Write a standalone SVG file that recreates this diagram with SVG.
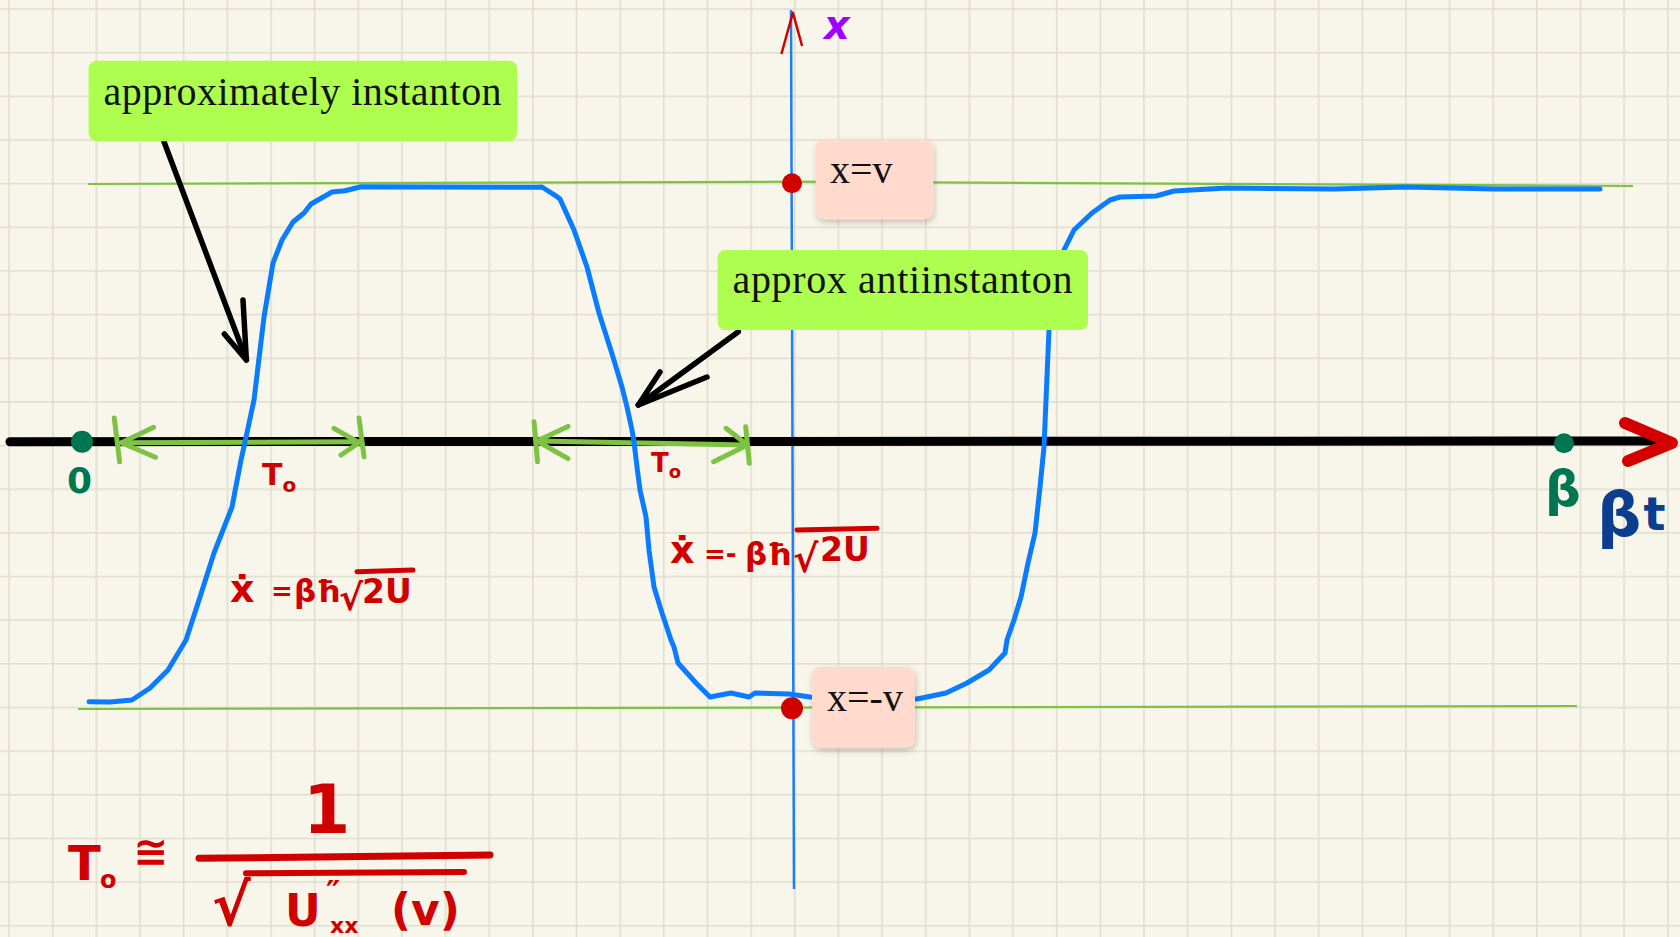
<svg xmlns="http://www.w3.org/2000/svg" width="1680" height="937" viewBox="0 0 1680 937">
<defs>
<pattern id="grid" patternUnits="userSpaceOnUse" x="8.25" y="8.25" width="43.65" height="43.65">
<rect x="0" y="0" width="43.65" height="1.6" fill="#e1ded0"/>
<rect x="0" y="0" width="1.6" height="43.65" fill="#e1ded0"/>
</pattern>
<filter id="shadow" x="-20%" y="-20%" width="150%" height="150%">
<feDropShadow dx="1" dy="3" stdDeviation="3" flood-color="#000" flood-opacity="0.22"/>
</filter>
<style>
.box-green{fill:#adfe4f}
.box-pink{fill:#ffdacd;filter:url(#shadow)}
.lbl{font-family:"Liberation Serif","Times New Roman",serif;font-size:40px;fill:#111}
.hand{font-family:"DejaVu Sans","Liberation Sans",sans-serif;font-weight:bold}
.red{fill:#d10000}
.lvl{fill:none;stroke:#7fc241;stroke-width:2.2}
.garrow{fill:none;stroke:#7dc242;stroke-width:5;stroke-linecap:round;stroke-linejoin:round}
.barrow{fill:none;stroke:#000;stroke-width:5.5;stroke-linecap:round;stroke-linejoin:round}
</style>
</defs>
<rect width="1680" height="937" fill="#f8f6ea"/>
<rect width="1680" height="937" fill="url(#grid)"/>

<g id="levels">
<polyline class="lvl" points="88,184 790,181.7 1120,183.3 1633,186"/>
<polyline class="lvl" points="78,709 1577,706"/>
</g>

<g id="x-axis">
<line x1="791" y1="10" x2="794" y2="889" stroke="#1a7ff5" stroke-width="2.5"/>
<polyline points="781.4,54 792.9,12.7 802.1,46" fill="none" stroke="#d40000" stroke-width="2.5" stroke-linejoin="round"/>
<text class="hand" x="824" y="39" font-size="40" font-style="italic" fill="#a000ff">x</text>
</g>

<g id="t-axis">
<line x1="10" y1="441.7" x2="1668" y2="441" stroke="#000" stroke-width="9" stroke-linecap="round"/>
<polyline points="1625,423 1672,443 1628,461" fill="none" stroke="#d40000" stroke-width="12" stroke-linecap="round" stroke-linejoin="round"/>
<circle cx="82" cy="441.7" r="11" fill="#007552"/>
<circle cx="1564" cy="443.3" r="10" fill="#007552"/>
<text class="hand" x="67" y="493" font-size="36" font-weight="normal" fill="#007552">0</text>
<text class="hand" x="1545" y="506" font-size="50" font-weight="normal" fill="#007552">β</text>
<text class="hand" x="1597" y="536" font-size="62" fill="#0d3d8f">β<tspan font-size="46" dx="2" dy="-6">t</tspan></text>
</g>

<g id="connectors">
<g id="t0-span-1">
<line class="garrow" x1="114.3" y1="418" x2="119.6" y2="461.7"/>
<line class="garrow" x1="359" y1="418" x2="364" y2="456.7"/>
<line class="garrow" x1="121.4" y1="442.7" x2="359" y2="441.7"/>
<polyline class="garrow" points="153.6,427.3 121.4,442.7 155.4,457.3"/>
<polyline class="garrow" points="334,428.3 359,442.7 341,455"/>
</g>
<g id="t0-span-2">
<line class="garrow" x1="534" y1="421.7" x2="537.5" y2="461.7"/>
<line class="garrow" x1="745.7" y1="426.7" x2="749.3" y2="463.3"/>
<line class="garrow" x1="537" y1="441" x2="747" y2="445"/>
<polyline class="garrow" points="568,426.4 537,441 568,458.6"/>
<polyline class="garrow" points="726,428.3 747.5,445 713.6,461.7"/>
</g>
</g>

<g id="path-curve">
<polyline fill="none" stroke="#0a7cff" stroke-width="5" stroke-linecap="round" stroke-linejoin="round" points="89,701.7 110,702 132,700 150,688 168,670 186,640 200,597 214,553 232,507 241,460 245,442 254,400 264,317 273,263 282,240 293,222 304,213 311,204 332,192 345,190.7 361,186.7 536,187.3 542,187 557,196.7 560,199 574,230 587,267 599,313 613,357 622,387 627,407 632,430 634,442 637,467 640,490 646,517 649,550 654,587 662,613 671,640 674,647 678,663 696,683 710,697 731,693 749,697 755,693 789,694 810,697 860,698 917,699 946,693 967,683 989,670 1005,653 1007,640 1014,620 1021,597 1028,563 1035,533 1040,487 1044,447 1046,400 1049,330 1055,290 1064,250 1074,230 1092,213 1110,200 1120,197 1156,196 1174,191 1227,188 1334,189 1406,187 1495,189 1600,189"/>
</g>

<g id="pointer-arrows">
<line class="barrow" x1="164" y1="141.7" x2="246.4" y2="360"/>
<polyline class="barrow" points="224.3,334 246.4,360 243,300"/>
<line class="barrow" x1="738.3" y1="331.7" x2="638.3" y2="405"/>
<polyline class="barrow" points="660,372 638.3,405 707,377"/>
</g>

<g id="node-instanton">
<rect class="box-green" x="88.6" y="60.7" width="428.5" height="80.6" rx="8"/>
<text class="lbl" x="103.6" y="105" font-size="41" textLength="398" lengthAdjust="spacing">approximately instanton</text>
</g>

<g id="node-antiinstanton">
<rect class="box-green" x="717.5" y="250" width="370.5" height="80" rx="8"/>
<text class="lbl" x="732.5" y="293.3" font-size="41.5" textLength="340" lengthAdjust="spacing">approx antiinstanton</text>
</g>

<g id="node-xv">
<rect class="box-pink" x="815.7" y="139.3" width="117.6" height="80" rx="9"/>
<text class="lbl" x="830" y="182.7">x=v</text>
</g>

<g id="node-xmv">
<rect class="box-pink" x="812" y="666.7" width="103" height="81" rx="9"/>
<text class="lbl" x="827" y="710.7">x=-v</text>
</g>

<g id="points">
<circle cx="792" cy="183.3" r="10" fill="#d10000"/>
<circle cx="792" cy="708.3" r="11" fill="#d10000"/>
</g>

<g id="annotations">
<text class="hand red" x="262" y="485" font-size="30" font-weight="normal">T<tspan font-size="20" dy="7">o</tspan></text>
<text class="hand red" x="651" y="472" font-size="26" font-weight="normal">T<tspan font-size="18" dy="6">o</tspan></text>

<g id="formula-3">
<text class="hand red" x="68" y="880" font-size="48" font-weight="normal">T<tspan x="100" y="888" font-size="24">o</tspan></text>
<text class="hand red" x="133" y="866" font-size="42">≅</text>
<text class="hand red" x="303" y="833" font-size="68" font-weight="normal">1</text>
<line x1="199" y1="858.3" x2="490" y2="855" stroke="#d10000" stroke-width="7" stroke-linecap="round"/>
<text class="hand red" x="212" y="925" font-size="58" font-weight="normal">√</text>
<line x1="246" y1="873.3" x2="464" y2="872" stroke="#d10000" stroke-width="6" stroke-linecap="round"/>
<text class="hand red" x="285" y="926" font-size="44" font-weight="normal">U<tspan x="326" y="903" font-size="32">″</tspan><tspan x="330" y="933" font-size="22" font-weight="bold">xx</tspan><tspan x="391" y="925" font-size="44">(v)</tspan></text>
</g>

<g id="formula-1">
<text class="hand red" x="230" y="602" font-size="38">ẋ</text>
<text class="hand red" x="271" y="600" font-size="26">=</text>
<text class="hand red" x="294" y="602" font-size="31">βħ</text>
<text class="hand red" x="339" y="610" font-size="36">√</text>
<line x1="357" y1="571.7" x2="413" y2="570" stroke="#d10000" stroke-width="5" stroke-linecap="round"/>
<text class="hand red" x="362" y="603" font-size="33">2U</text>
</g>

<g id="formula-2">
<text class="hand red" x="670" y="563" font-size="38">ẋ</text>
<text class="hand red" x="704" y="563" font-size="26">=-</text>
<text class="hand red" x="745" y="565" font-size="31">βħ</text>
<text class="hand red" x="793" y="572" font-size="38">√</text>
<line x1="797" y1="530" x2="877" y2="528.3" stroke="#d10000" stroke-width="5" stroke-linecap="round"/>
<text class="hand red" x="820" y="561" font-size="33">2U</text>
</g>
</g>
</svg>
